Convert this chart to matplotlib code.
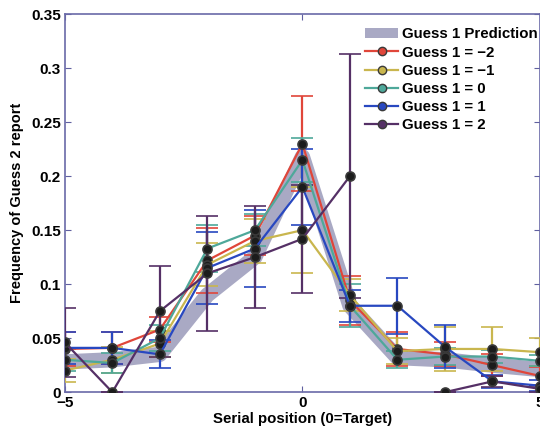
import numpy as np
import matplotlib.pyplot as plt
from matplotlib.lines import Line2D
from matplotlib.patches import Patch

plt.rcParams['font.family'] = ['Liberation Sans', 'DejaVu Sans']
plt.rcParams['font.weight'] = 'bold'

# serial positions relative to target
pos = np.arange(-5, 6)

# grey band: model prediction from guess 1
pred = [0.028, 0.030, 0.035, 0.090, 0.125, 0.218, 0.080, 0.032, 0.030, 0.025, 0.021]

# guess 2 report frequency, split by guess 1 position
g_m2 = [0.040, 0.041, 0.058, 0.122, 0.145, 0.230, 0.085, 0.040, 0.035, 0.025, 0.015]
g_m1 = [0.020, 0.030, 0.045, 0.118, 0.140, 0.150, 0.090, 0.038, 0.040, 0.040, 0.037]
g_0 = [0.030, 0.027, 0.050, 0.133, 0.150, 0.215, 0.080, 0.030, 0.033, 0.033, 0.029]
g_p1 = [0.041, 0.041, 0.035, 0.115, 0.133, 0.190, 0.080, 0.080, 0.042, 0.010, 0.006]
g_p2 = [0.046, 0.000, 0.075, 0.110, 0.125, 0.142, 0.200, np.nan, 0.000, 0.010, 0.003]

# standard errors
e_m2 = [0.016, 0.015, 0.012, 0.030, 0.018, 0.044, 0.023, 0.016, 0.011, 0.010, 0.008]
e_m1 = [0.011, 0.012, 0.012, 0.020, 0.020, 0.040, 0.015, 0.012, 0.020, 0.020, 0.013]
e_0 = [0.010, 0.009, 0.012, 0.022, 0.015, 0.020, 0.020, 0.008, 0.008, 0.006, 0.005]
e_p1 = [0.015, 0.015, 0.013, 0.033, 0.036, 0.035, 0.015, 0.026, 0.020, 0.006, 0.005]
e_p2 = [0.032, 0.000, 0.042, 0.053, 0.047, 0.050, 0.113, np.nan, 0.000, 0.005, 0.003]

labels = ['Guess 1 = \u22122', 'Guess 1 = \u22121', 'Guess 1 = 0', 'Guess 1 = 1', 'Guess 1 = 2']
colors = ['#e0463a', '#c9b64e', '#4ea89a', '#2848c0', '#553066']
series = [g_m2, g_m1, g_0, g_p1, g_p2]
errs = [e_m2, e_m1, e_0, e_p1, e_p2]

fig = plt.figure(figsize=(5.4, 4.3), dpi=100)
ax = fig.add_axes([0.12, 0.088, 0.88, 0.879])

ax.plot(pos, pred, color='#a9a9c4', lw=11, solid_capstyle='butt', zorder=1)

for y, e, c in zip(series, errs, colors):
    ax.errorbar(pos, y, yerr=e, color=c, lw=1.6, elinewidth=1.6,
                capsize=8, capthick=2, marker='o', ms=6.5,
                mfc='#1c1c1c', mec='#3a3a3a', mew=1.2, zorder=3)

ax.set_xlim(-5, 5)
ax.set_ylim(0, 0.35)
ax.set_xticks([-5, 0, 5])
ax.set_yticks([0, 0.05, 0.1, 0.15, 0.2, 0.25, 0.3, 0.35])
ax.set_yticklabels(['0', '0.05', '0.1', '0.15', '0.2', '0.25', '0.3', '0.35'])
ax.tick_params(direction='in', top=True, right=True, length=4,
               color='#6060a0', labelsize=11, pad=3)
for s in ax.spines.values():
    s.set_color('#6a6aa8')
    s.set_linewidth(1.2)

ax.set_xlabel('Serial position (0=Target)', fontsize=10.8, fontweight='bold', labelpad=1)
ax.set_ylabel('Frequency of Guess 2 report', fontsize=10.5, fontweight='bold', labelpad=5)

handles = [Patch(facecolor='#a9a9c4', edgecolor='none')]
for c in colors:
    handles.append(Line2D([], [], color=c, lw=1.6, marker='o', ms=6,
                          mfc=c, mec='#3a3a3a', mew=1.0))
ax.legend(handles, ['Guess 1 Prediction'] + labels, loc='upper left',
          bbox_to_anchor=(0.617, 0.985), frameon=False, borderpad=0,
          handlelength=2.2, handletextpad=0.25, labelspacing=0.28,
          prop={'weight': 'bold', 'size': 10.8})

fig.savefig('out.png', dpi=100)
